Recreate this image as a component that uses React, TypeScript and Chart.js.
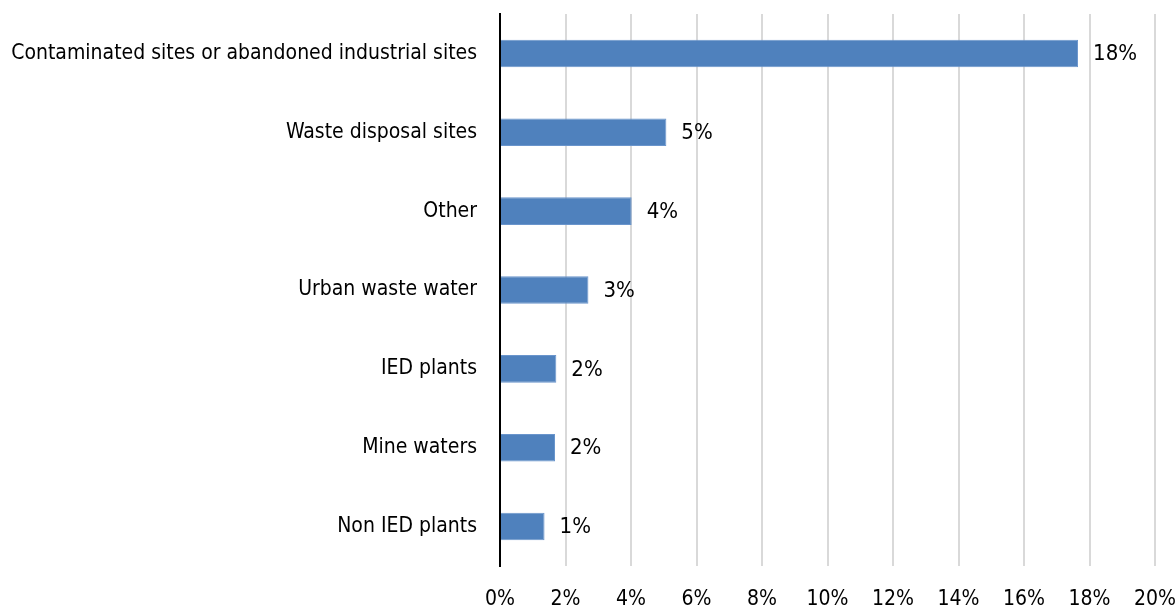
import React, { useEffect, useRef } from "react";
import { Chart, registerables } from "chart.js";

Chart.register(...registerables);

const categories = [
  "Contaminated sites or abandoned industrial sites",
  "Waste disposal sites",
  "Other",
  "Urban waste water",
  "IED plants",
  "Mine waters",
  "Non IED plants",
];
const shares = [17.65, 5.08, 4.02, 2.7, 1.72, 1.68, 1.36];
const xTickStep = 2;
const xMax = 20;

const FONT = "'DejaVu Sans Condensed', 'Liberation Sans Narrow', sans-serif";

const valueLabels = {
  id: "valueLabels",
  afterDatasetsDraw(chart: any) {
    const ctx = chart.ctx;
    const meta = chart.getDatasetMeta(0);
    ctx.save();
    ctx.font = `22px ${FONT}`;
    ctx.fillStyle = "#000";
    ctx.textAlign = "left";
    ctx.textBaseline = "middle";
    meta.data.forEach((bar: any, i: number) => {
      const v = chart.data.datasets[0].data[i] as number;
      ctx.fillText(Math.round(v) + "%", bar.x + 15, bar.y + 1);
    });
    ctx.restore();
  },
};

export default function App() {
  const ref = useRef<HTMLCanvasElement>(null);
  useEffect(() => {
    if (!ref.current) return;
    const chart = new Chart(ref.current, {
      type: "bar",
      data: {
        labels: categories,
        datasets: [
          {
            data: shares,
            backgroundColor: "#4F81BD",
            borderColor: "#6A95CC",
            borderWidth: 1,
            barPercentage: 0.35,
            categoryPercentage: 1,
          },
        ],
      },
      options: {
        indexAxis: "y",
        animation: false,
        responsive: true,
        maintainAspectRatio: false,
        layout: { padding: { left: 0, top: 14, right: 21, bottom: 0 } },
        plugins: { legend: { display: false }, tooltip: { enabled: false } },
        scales: {
          x: {
            min: 0,
            max: xMax,
            ticks: {
              stepSize: xTickStep,
              callback: (v: any) => v + "%",
              color: "#000",
              font: { family: FONT, size: 21 },
              padding: 21,
              maxRotation: 0,
            },
            grid: { color: "#D9D9D9", lineWidth: 2, drawTicks: false },
            border: { display: false },
            afterFit: (s: any) => {
              s.height = 42;
              s.paddingLeft = 0;
              s.paddingRight = 0;
            },
          },
          y: {
            ticks: {
              color: "#000",
              font: { family: FONT, size: 21 },
              padding: 23,
            },
            grid: { display: false, drawTicks: false },
            border: { display: true, color: "#000", width: 2 },
            afterFit: (s: any) => {
              s.width = 500;
              s.paddingTop = 0;
              s.paddingBottom = 0;
            },
          },
        },
      },
      plugins: [valueLabels],
    });
    return () => chart.destroy();
  }, []);
  return (
    <div style={{ position: "absolute", left: 0, top: 0, width: 1176, height: 608 }}>
      <canvas ref={ref} />
    </div>
  );
}
